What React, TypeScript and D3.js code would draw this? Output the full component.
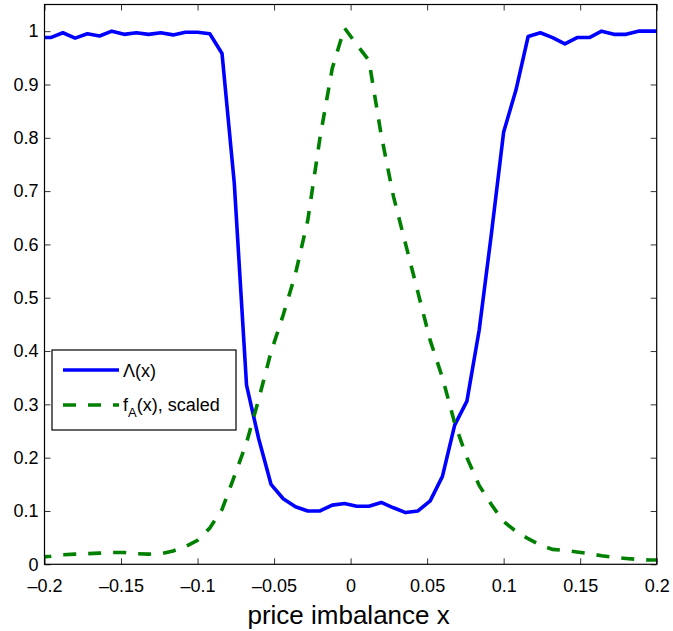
import React, { useEffect, useRef } from 'react';
import * as d3 from 'd3';

// bin centres of the estimate (plus one point each side, clipped by the frame)
const xValues = [
  -0.204, -0.196, -0.188, -0.18, -0.172, -0.164, -0.156, -0.148, -0.14, -0.132,
  -0.124, -0.116, -0.108, -0.1, -0.092, -0.084, -0.076, -0.068, -0.06, -0.052,
  -0.044, -0.036, -0.028, -0.02, -0.012, -0.004, 0.004, 0.012, 0.02, 0.028,
  0.036, 0.044, 0.052, 0.06, 0.068, 0.076, 0.084, 0.092, 0.1, 0.108,
  0.116, 0.124, 0.132, 0.14, 0.148, 0.156, 0.164, 0.172, 0.18, 0.188,
  0.196, 0.204,
];

const lambdaValues = [
  0.988, 0.988, 0.997, 0.987, 0.995, 0.991, 1.0, 0.994, 0.997, 0.994,
  0.997, 0.993, 0.998, 0.998, 0.995, 0.958, 0.715, 0.336, 0.235, 0.15,
  0.123, 0.108, 0.1, 0.1, 0.111, 0.114, 0.109, 0.109, 0.116, 0.106,
  0.097, 0.1, 0.119, 0.165, 0.261, 0.306, 0.439, 0.62, 0.811, 0.889,
  0.99, 0.997, 0.988, 0.976, 0.988, 0.988, 1.0, 0.994, 0.994, 1.0,
  1.0, 1.0,
];

const densityValues = [
  0.013, 0.015, 0.018, 0.019, 0.02, 0.021, 0.022, 0.022, 0.02, 0.019,
  0.02, 0.025, 0.033, 0.045, 0.068, 0.103, 0.165, 0.228, 0.31, 0.398,
  0.468, 0.545, 0.645, 0.8, 0.93, 1.006, 0.975, 0.945, 0.805, 0.69,
  0.6, 0.51, 0.42, 0.35, 0.265, 0.2, 0.148, 0.112, 0.08, 0.062,
  0.048, 0.036, 0.028, 0.026, 0.023, 0.02, 0.016, 0.013, 0.011, 0.009,
  0.008, 0.008,
];

const xTicks = [-0.2, -0.15, -0.1, -0.05, 0, 0.05, 0.1, 0.15, 0.2];
const xTickLabels = ['–0.2', '–0.15', '–0.1', '–0.05', '0', '0.05', '0.1', '0.15', '0.2'];
const yTicks = [0, 0.1, 0.2, 0.3, 0.4, 0.5, 0.6, 0.7, 0.8, 0.9, 1];
const yTickLabels = ['0', '0.1', '0.2', '0.3', '0.4', '0.5', '0.6', '0.7', '0.8', '0.9', '1'];

const FONT = 'Liberation Sans, Arial, Helvetica, sans-serif';

const App = () => {
  const svgRef = useRef<SVGSVGElement>(null);

  useEffect(() => {
    const width = 673;
    const height = 631;
    const left = 44.5, right = 656.7, top = 4.5, bottom = 564.3;

    const svg = d3.select(svgRef.current)
      .attr('width', width)
      .attr('height', height);
    svg.selectAll('*').remove();

    const x = d3.scaleLinear().domain([-0.2, 0.2]).range([left, right]);
    const y = d3.scaleLinear().domain([0, 1.05]).range([bottom, top]);

    svg.append('rect')
      .attr('width', width).attr('height', height).attr('fill', 'white');

    svg.append('clipPath').attr('id', 'plot-clip')
      .append('rect')
      .attr('x', left).attr('y', top)
      .attr('width', right - left).attr('height', bottom - top);

    const styleAxis = (g, showLabels) => {
      g.select('.domain').remove();
      g.selectAll('.tick line').attr('stroke', '#333').attr('stroke-width', 1);
      g.selectAll('.tick text')
        .attr('font-family', FONT)
        .attr('font-size', 18)
        .attr('fill', '#000')
        .style('display', showLabels ? null : 'none');
    };

    // bottom + left with labels, top + right ticks only
    svg.append('g')
      .attr('transform', `translate(0,${bottom})`)
      .call(d3.axisBottom(x).tickValues(xTicks)
        .tickFormat((d, i) => xTickLabels[i]).tickSize(-6).tickPadding(15))
      .call(g => styleAxis(g, true));
    svg.append('g')
      .attr('transform', `translate(0,${top})`)
      .call(d3.axisTop(x).tickValues(xTicks).tickSize(-6))
      .call(g => styleAxis(g, false));
    svg.append('g')
      .attr('transform', `translate(${left},0)`)
      .call(d3.axisLeft(y).tickValues(yTicks)
        .tickFormat((d, i) => yTickLabels[i]).tickSize(-6).tickPadding(6))
      .call(g => styleAxis(g, true));
    svg.append('g')
      .attr('transform', `translate(${right},0)`)
      .call(d3.axisRight(y).tickValues(yTicks).tickSize(-6))
      .call(g => styleAxis(g, false));

    const line = d3.line<number>()
      .x((d, i) => x(xValues[i]))
      .y(d => y(d));

    const plot = svg.append('g').attr('clip-path', 'url(#plot-clip)');

    plot.append('path')
      .datum(lambdaValues)
      .attr('d', line)
      .attr('fill', 'none')
      .attr('stroke', '#0000ff')
      .attr('stroke-width', 3.6)
      .attr('stroke-linejoin', 'round');

    plot.append('path')
      .datum(densityValues)
      .attr('d', line)
      .attr('fill', 'none')
      .attr('stroke', '#008000')
      .attr('stroke-width', 3.6)
      .attr('stroke-dasharray', '13,12');

    svg.append('rect')
      .attr('x', left).attr('y', top)
      .attr('width', right - left).attr('height', bottom - top)
      .attr('fill', 'none')
      .attr('stroke', '#000')
      .attr('stroke-width', 1.2);

    svg.append('text')
      .attr('x', (left + right) / 2 - 2)
      .attr('y', 624)
      .attr('text-anchor', 'middle')
      .attr('font-family', FONT)
      .attr('font-size', 26)
      .text('price imbalance x');

    // legend
    const legend = svg.append('g');
    legend.append('rect')
      .attr('x', 52).attr('y', 350)
      .attr('width', 184).attr('height', 80)
      .attr('fill', 'white')
      .attr('stroke', '#000')
      .attr('stroke-width', 1.2);
    legend.append('line')
      .attr('x1', 63).attr('x2', 119).attr('y1', 370).attr('y2', 370)
      .attr('stroke', '#0000ff').attr('stroke-width', 3.6);
    legend.append('line')
      .attr('x1', 63).attr('x2', 119).attr('y1', 405).attr('y2', 405)
      .attr('stroke', '#008000').attr('stroke-width', 3.6)
      .attr('stroke-dasharray', '13,12');
    legend.append('text')
      .attr('x', 123).attr('y', 377)
      .attr('font-family', FONT).attr('font-size', 18)
      .text('Λ(x)');
    const fa = legend.append('text')
      .attr('x', 123).attr('y', 411)
      .attr('font-family', FONT).attr('font-size', 18);
    fa.append('tspan').text('f');
    fa.append('tspan').attr('font-size', 13).attr('dy', 6).text('A');
    fa.append('tspan').attr('dy', -6).text('(x), scaled');
  }, []);

  return (
    <svg ref={svgRef} style={{ position: 'absolute', left: 0, top: 0 }}></svg>
  );
};

export default App;
